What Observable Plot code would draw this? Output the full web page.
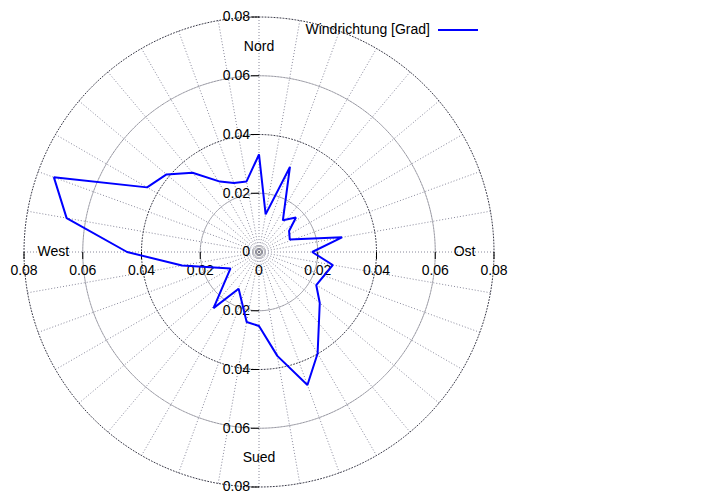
<!DOCTYPE html>
<html>
<head>
<meta charset="utf-8">
<script src="https://cdn.jsdelivr.net/npm/d3@7"></script>
<script src="https://cdn.jsdelivr.net/npm/@observablehq/plot@0.6"></script>
<style>
  html, body { margin: 0; padding: 0; background: #fff; }
  #chart { position: relative; width: 720px; height: 504px; }
  svg { font-family: "Liberation Sans", Arial, Helvetica, sans-serif; }
</style>
</head>
<body>
<div id="chart"></div>
<script>
// Wind direction (compass degrees, clockwise from north) and relative frequency
const directions = [0, 10, 20, 37, 47, 55, 68, 80, 90, 100, 120, 130, 150, 160, 170, 180, 190, 209, 219, 240, 260, 270, 280, 290, 300, 310, 320, 331, 340, 350];
const frequencies = [0.0332, 0.0130, 0.0308, 0.0135, 0.0172, 0.0125, 0.0113, 0.0287, 0.0181, 0.0255, 0.0225, 0.0270, 0.0399, 0.0482, 0.0359, 0.0252, 0.0242, 0.0143, 0.0246, 0.0112, 0.0266, 0.0449, 0.0665, 0.0743, 0.0440, 0.0411, 0.0352, 0.0274, 0.0250, 0.0244];

// Grid and tick definitions
const majorCircles = [0.04, 0.08];
const minorCircles = [0.02, 0.06];
const axisTicks = [-0.08, -0.06, -0.04, -0.02, 0, 0.02, 0.04, 0.06, 0.08];
const axisTickLabels = ["0.08", "0.06", "0.04", "0.02", "0", "0.02", "0.04", "0.06", "0.08"];
const spokeAngles = d3.range(0, 360, 10);
const compassNames = ["Nord", "Ost", "Sued", "West"];
const compassAngles = [0, 90, 180, 270];
const seriesName = "Windrichtung [Grad]";

const rMax = 0.08;
const labelRadius = 0.07;
const rad = d => d * Math.PI / 180;

const series = directions.map((d, i) => ({dir: d, r: frequencies[i]}));
const ring = radii => radii.flatMap(r => d3.range(0, 361, 1).map(a => ({r, a})));
const spokes = spokeAngles.map(a => ({a}));
const ticks = axisTicks.map((v, i) => ({v, label: axisTickLabels[i]}));
const compass = compassNames.map((n, i) => ({name: n, a: compassAngles[i]}));

const hTick = {draw(ctx) { ctx.moveTo(0, 0); ctx.lineTo(0, 7); }};
const vTick = {draw(ctx) { ctx.moveTo(-8, 0); ctx.lineTo(0, 0); }};

const px = d => d.r * Math.sin(rad(d.a));
const py = d => d.r * Math.cos(rad(d.a));

const chart = Plot.plot({
  width: 720,
  height: 504,
  marginLeft: 23.5,
  marginRight: 226.5,
  marginTop: 16.5,
  marginBottom: 17.5,
  x: {domain: [-rMax, rMax], axis: null},
  y: {domain: [-rMax, rMax], axis: null},
  style: {fontFamily: "'Liberation Sans', Arial, Helvetica, sans-serif", fontSize: "14px", background: "white"},
  marks: [
    // spokes
    Plot.link(spokes, {
      x1: 0, y1: 0,
      x2: d => rMax * Math.sin(rad(d.a)),
      y2: d => rMax * Math.cos(rad(d.a)),
      stroke: "#7a7a8e", strokeWidth: 0.9, strokeDasharray: "1,2"
    }),
    // minor circles
    Plot.line(ring(minorCircles), {
      x: px, y: py, z: "r",
      stroke: "#8a8a95", strokeWidth: 0.9, strokeDasharray: "2,1"
    }),
    // major circles
    Plot.line(ring(majorCircles), {
      x: px, y: py, z: "r",
      stroke: "#202030", strokeWidth: 0.9, strokeDasharray: "1,2"
    }),
    // center rings
    Plot.dot([0], {x: 0, y: 0, r: 2.5, stroke: "#666", strokeWidth: 0.8, fill: "none"}),
    Plot.dot([0], {x: 0, y: 0, r: 5.5, stroke: "#aaa", strokeWidth: 0.8, fill: "none"}),
    // horizontal axis ticks and labels
    Plot.dot(ticks.filter(t => t.v !== 0), {x: "v", y: 0, symbol: hTick, stroke: "black", strokeWidth: 1, r: 4}),
    Plot.text(ticks, {x: "v", y: 0, text: "label", dy: 19, fill: "black", fontSize: 14}),
    // vertical axis ticks and labels
    Plot.dot(ticks.filter(t => t.v !== 0), {x: 0, y: "v", symbol: vTick, stroke: "black", strokeWidth: 1, r: 4}),
    Plot.text(ticks, {x: 0, y: "v", text: "label", textAnchor: "end", dx: -9, fill: "black", fontSize: 14}),
    // compass labels
    Plot.text(compass, {
      x: d => labelRadius * Math.sin(rad(d.a)),
      y: d => labelRadius * Math.cos(rad(d.a)),
      text: "name", fill: "black", fontSize: 14
    }),
    // data
    Plot.line(series, {
      x: d => d.r * Math.sin(rad(d.dir)),
      y: d => d.r * Math.cos(rad(d.dir)),
      curve: "linear-closed",
      stroke: "#0000ff", strokeWidth: 2, strokeLinejoin: "miter"
    })
  ]
});

document.getElementById("chart").appendChild(chart);

// legend (top right, gnuplot style)
const svg = d3.select(chart);
const lg = svg.append("g");
lg.append("text")
  .attr("x", 430).attr("y", 30)
  .attr("text-anchor", "end").attr("dominant-baseline", "middle")
  .attr("font-size", 14).attr("fill", "black")
  .text(seriesName);
lg.append("line")
  .attr("x1", 438).attr("x2", 478).attr("y1", 30).attr("y2", 30)
  .attr("stroke", "#0000ff").attr("stroke-width", 2);
</script>
</body>
</html>
